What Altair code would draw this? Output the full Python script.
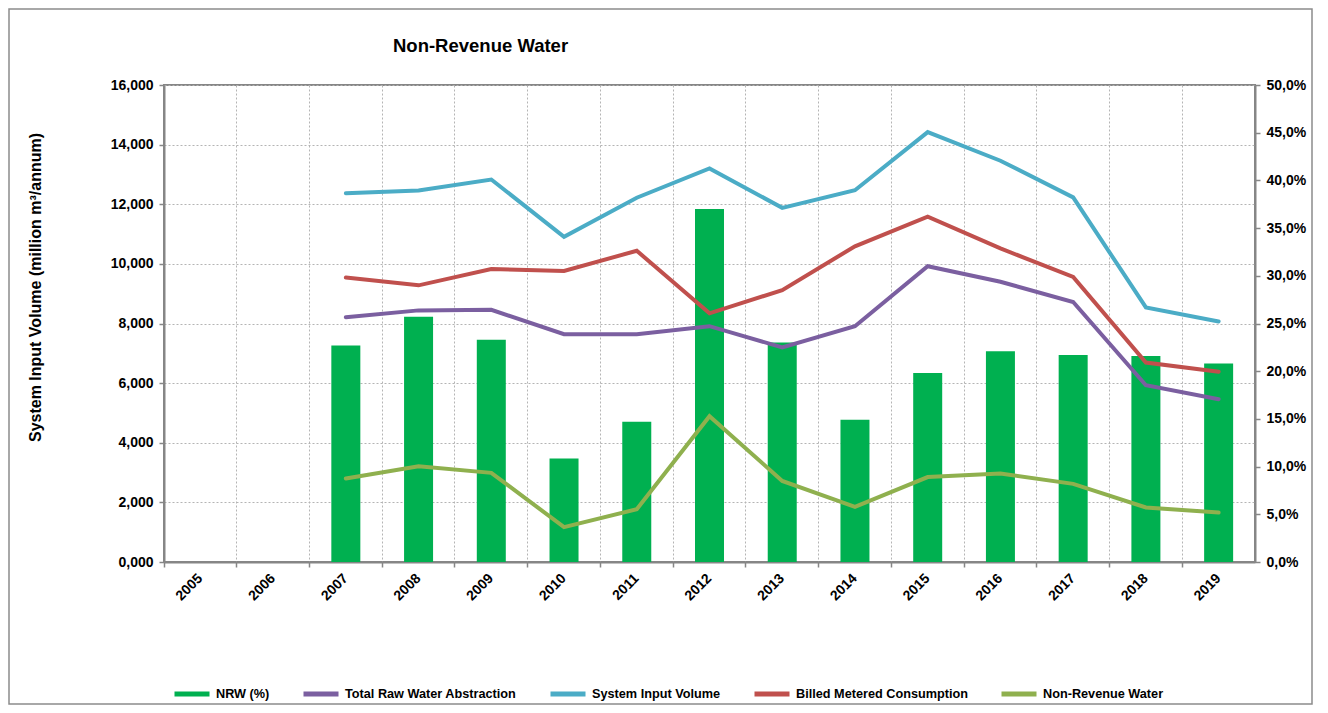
import altair as alt
import pandas as pd

# ---------------- data ----------------
years = ["2005", "2006", "2007", "2008", "2009", "2010", "2011", "2012",
         "2013", "2014", "2015", "2016", "2017", "2018", "2019"]
data_years = ["2007", "2008", "2009", "2010", "2011", "2012", "2013",
              "2014", "2015", "2016", "2017", "2018", "2019"]

nrw_pct = [22.7, 25.7, 23.3, 10.85, 14.7, 37.0, 23.0, 14.9, 19.8, 22.1, 21.7, 21.6, 20.8]
total_raw = [8210, 8440, 8460, 7640, 7640, 7910, 7200, 7910, 9920, 9400, 8720, 5930, 5460]
system_input = [12370, 12460, 12830, 10910, 12220, 13200, 11880, 12470, 14420, 13460, 12230, 8540, 8070]
billed_metered = [9540, 9280, 9830, 9760, 10440, 8340, 9120, 10590, 11580, 10520, 9560, 6690, 6380]
non_revenue = [2800, 3210, 2990, 1170, 1770, 4890, 2720, 1850, 2850, 2970, 2620, 1830, 1660]

series_names = ["NRW (%)", "Total Raw Water Abstraction", "System Input Volume",
                "Billed Metered Consumption", "Non-Revenue Water"]
series_colors = ["#00B050", "#7B5FA0", "#4BACC6", "#C0504D", "#8FB04E"]

left_ticks = [0, 2000, 4000, 6000, 8000, 10000, 12000, 14000, 16000]
right_ticks = [0, 0.05, 0.10, 0.15, 0.20, 0.25, 0.30, 0.35, 0.40, 0.45, 0.50]

title_text = "Non-Revenue Water"
y_title = "System Input Volume (million m³/annum)"

# ---------------- tables ----------------
bars_df = pd.DataFrame({"year": data_years, "pct": [v / 100 for v in nrw_pct]})

line_series = {
    "Total Raw Water Abstraction": total_raw,
    "System Input Volume": system_input,
    "Billed Metered Consumption": billed_metered,
    "Non-Revenue Water": non_revenue,
}
rows = []
for name, vals in line_series.items():
    for yr, v in zip(data_years, vals):
        rows.append({"year": yr, "series": name, "value": v})
lines_df = pd.DataFrame(rows)

FONT = "Liberation Sans"
AXIS_GREY = "#868686"
GRID_GREY = "#b4b4b4"

W, H = 1091, 477

x_enc = alt.X(
    "year:N",
    sort=years,
    scale=alt.Scale(domain=years, paddingInner=0, paddingOuter=0),
    axis=alt.Axis(
        title=None, bandPosition=0, grid=True, gridColor=GRID_GREY, gridDash=[2, 2],
        gridWidth=1, ticks=True, tickSize=5, tickColor=AXIS_GREY, tickWidth=1.5,
        domainColor=AXIS_GREY, domainWidth=2, labelAngle=-45, labelAlign="right",
        labelBaseline="middle", labelFont=FONT, labelFontSize=14, labelFontWeight="bold",
        labelColor="#000000", labelPadding=9,
    ),
)

bars = alt.Chart(bars_df).mark_bar(size=29, color="#00B050").encode(
    x=x_enc,
    y=alt.Y(
        "pct:Q",
        scale=alt.Scale(domain=[0, 0.5], nice=False),
        axis=alt.Axis(
            orient="right", values=right_ticks, title=None, grid=False,
            labelExpr="replace(format(datum.value, '.1%'), '.', ',')",
            labelFont=FONT, labelFontSize=14, labelFontWeight="bold", labelColor="#000000",
            labelPadding=6, tickSize=5, tickColor=AXIS_GREY, tickWidth=1.5,
            domainColor=AXIS_GREY, domainWidth=2,
        ),
    ),
)

lines = alt.Chart(lines_df).mark_line(strokeWidth=4, strokeCap="round").encode(
    x=x_enc,
    y=alt.Y(
        "value:Q",
        scale=alt.Scale(domain=[0, 16000], nice=False),
        axis=alt.Axis(
            orient="left", values=left_ticks, title=y_title,
            labelExpr="datum.value === 0 ? '0,000' : format(datum.value, ',')",
            grid=True, gridColor=GRID_GREY, gridDash=[2, 2], gridWidth=1,
            labelFont=FONT, labelFontSize=14, labelFontWeight="bold", labelColor="#000000",
            labelPadding=6, tickSize=5, tickColor=AXIS_GREY, tickWidth=1.5,
            domainColor=AXIS_GREY, domainWidth=2,
            titleFont=FONT, titleFontSize=16, titleFontWeight="bold", titleColor="#000000",
            titleAngle=-90, titleX=-129, titleY=202, titleAlign="center",
            titleBaseline="middle",
        ),
    ),
    color=alt.Color(
        "series:N",
        scale=alt.Scale(domain=series_names, range=series_colors),
        legend=alt.Legend(
            title=None, orient="none", legendX=8, legendY=589, direction="horizontal",
            symbolType="stroke", symbolSize=1225, symbolStrokeWidth=5,
            labelFont=FONT, labelFontSize=12.7, labelFontWeight="bold", labelColor="#000000",
            labelOffset=4, labelLimit=400, columnPadding=23, padding=0,
        ),
    ),
)

frame = alt.Chart(pd.DataFrame({"k": [0]})).mark_rect(
    filled=False, stroke="#8c8c8c", strokeWidth=1.5
).encode(
    x=alt.value(-155), x2=alt.value(W + 57), y=alt.value(-76), y2=alt.value(H + 142)
)

title = alt.Chart(pd.DataFrame({"t": [title_text]})).mark_text(
    font=FONT, fontSize=18.5, fontWeight="bold", color="#000000", align="left", baseline="alphabetic"
).encode(x=alt.value(229), y=alt.value(-33), text="t:N")

chart = (
    alt.layer(frame, bars, lines, title)
    .resolve_scale(y="independent")
    .properties(
        width=W, height=H,
        padding={"left": 156, "top": 77, "right": 65, "bottom": 143},
        autosize=alt.AutoSizeParams(type="none"),
        background="#ffffff",
    )
    .configure_view(stroke=AXIS_GREY, strokeWidth=2)
)

chart.save("out.html", embed_options={"renderer": "svg", "actions": False})
